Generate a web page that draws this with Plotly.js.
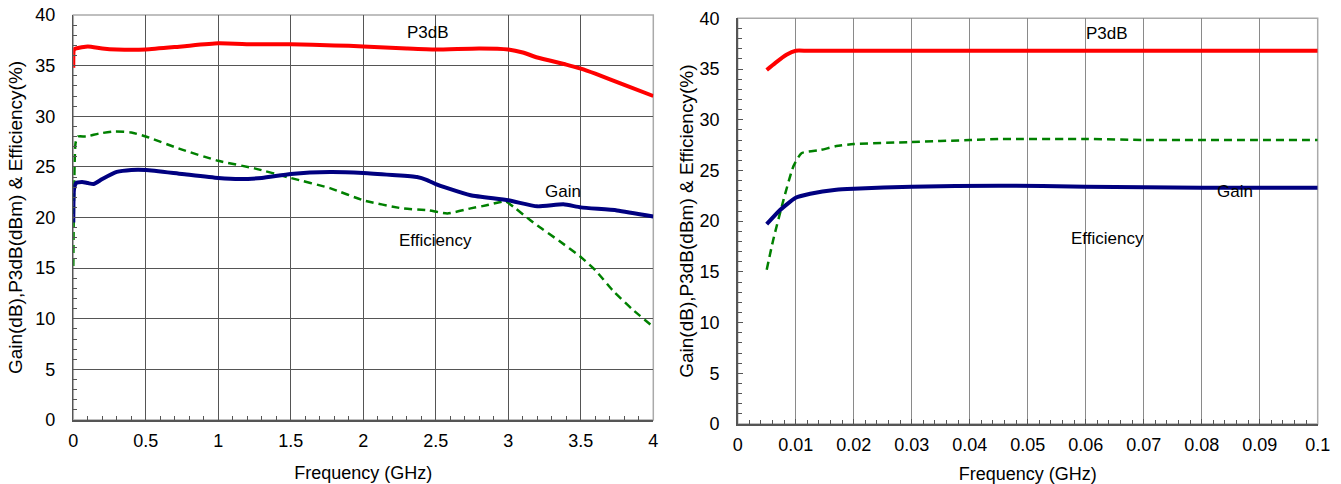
<!DOCTYPE html>
<html>
<head>
<meta charset="utf-8">
<script src="https://cdn.plot.ly/plotly-3.0.1.min.js"></script>
<style>html,body{margin:0;padding:0;background:#fff;}#chart{width:1341px;height:484px;}</style>
</head>
<body>
<div id="chart"></div>
<script>
// ---- Left chart (0 - 4 GHz) ----
const p3dbLeftFreq = [0, 0.005, 0.02, 0.1, 0.2, 0.3, 0.5, 0.75, 1.0, 1.25, 1.5, 1.8, 2.0, 2.3, 2.5, 2.8, 3.0, 3.1, 3.2, 3.4, 3.5, 3.6, 3.8, 4.0];
const p3dbLeft     = [34.8, 36.6, 36.7, 36.9, 36.7, 36.6, 36.6, 36.9, 37.2, 37.1, 37.1, 37.0, 36.9, 36.7, 36.6, 36.7, 36.6, 36.3, 35.8, 35.1, 34.7, 34.2, 33.1, 32.0];

const effLeftFreq = [0, 0.005, 0.015, 0.03, 0.09, 0.18, 0.29, 0.4, 0.5, 0.75, 1.0, 1.25, 1.5, 1.77, 2.0, 2.27, 2.45, 2.58, 2.74, 2.85, 2.98, 3.05, 3.15, 3.2, 3.35, 3.5, 3.6, 3.72, 3.85, 4.0];
const effLeft     = [15.2, 22.0, 27.3, 28.0, 28.0, 28.3, 28.5, 28.4, 28.0, 26.7, 25.6, 24.85, 23.9, 22.9, 21.7, 20.9, 20.7, 20.4, 20.9, 21.2, 21.6, 20.9, 19.75, 19.2, 17.7, 16.1, 14.8, 12.8, 11.0, 9.2];

const gainLeftFreq = [0, 0.005, 0.02, 0.06, 0.1, 0.14, 0.2, 0.3, 0.4, 0.5, 0.75, 1.0, 1.15, 1.3, 1.5, 1.77, 2.0, 2.2, 2.37, 2.44, 2.5, 2.58, 2.74, 3.0, 3.2, 3.38, 3.5, 3.75, 4.0];
const gainLeft     = [19.5, 22.8, 23.4, 23.5, 23.4, 23.3, 23.8, 24.5, 24.7, 24.7, 24.3, 23.9, 23.8, 23.9, 24.3, 24.5, 24.4, 24.2, 24.0, 23.7, 23.3, 22.9, 22.2, 21.7, 21.1, 21.3, 21.0, 20.7, 20.1];

// ---- Right chart (0 - 0.1 GHz) ----
const p3dbRightFreq = [0.005, 0.0065, 0.0084, 0.01, 0.012, 0.02, 0.04, 0.06, 0.08, 0.1];
const p3dbRight     = [34.9, 35.6, 36.4, 36.8, 36.8, 36.8, 36.8, 36.8, 36.8, 36.8];

const gainRightFreq = [0.005, 0.0073, 0.01, 0.0125, 0.017, 0.02, 0.03, 0.045, 0.06, 0.08, 0.1];
const gainRight     = [19.7, 21.1, 22.3, 22.7, 23.1, 23.2, 23.4, 23.5, 23.4, 23.3, 23.3];

const effRightFreq = [0.005, 0.0061, 0.0079, 0.0096, 0.011, 0.0142, 0.017, 0.02, 0.03, 0.04, 0.045, 0.06, 0.07, 0.1];
const effRight     = [15.2, 18.1, 22.1, 25.4, 26.7, 27.0, 27.4, 27.6, 27.8, 28.0, 28.1, 28.1, 28.0, 28.0];

const yTickVals = [0, 5, 10, 15, 20, 25, 30, 35, 40];
const rightGridVals = [10, 15, 20, 25];
const xTitle = 'Frequency (GHz)';
const yTitle = 'Gain(dB),P3dB(dBm) &amp; Efficiency(%)';

const FONT = 'Liberation Sans, Arial, sans-serif';
const RED = '#ff0000', NAVY = '#000080', GREEN = '#008000';

function line(x, y, color, width, dash, xa, ya) {
  return {type: 'scatter', mode: 'lines', x: x, y: y, xaxis: xa, yaxis: ya,
    line: {color: color, width: width, dash: dash || 'solid', shape: 'spline', smoothing: 0.5},
    showlegend: false, hoverinfo: 'skip'};
}

const traces = [
  line(effLeftFreq, effLeft, GREEN, 2.5, '8px,5px', 'x', 'y'),
  line(gainLeftFreq, gainLeft, NAVY, 4, null, 'x', 'y'),
  line(p3dbLeftFreq, p3dbLeft, RED, 4, null, 'x', 'y'),
  line(effRightFreq, effRight, GREEN, 2.5, '8px,5px', 'x2', 'y2'),
  line(gainRightFreq, gainRight, NAVY, 4, null, 'x2', 'y2'),
  line(p3dbRightFreq, p3dbRight, RED, 4, null, 'x2', 'y2')
];

const W = 1341, H = 484;
const tickFont = {family: FONT, size: 18, color: '#000'};
const xTitleFont = {family: FONT, size: 18, color: '#000'};
const yTitleFont = {family: FONT, size: 19, color: '#000'};

function xAxis(domain, range, dtick, minorD, gridColor, gridW, anchor) {
  return {domain: domain, range: range, dtick: dtick, tick0: 0,
    showgrid: true, gridcolor: gridColor, gridwidth: gridW, zeroline: false,
    showline: true, linecolor: '#555', linewidth: 1.5,
    ticks: 'inside', ticklen: 5, tickcolor: '#555', ticklabelstandoff: 4,
    minor: {ticks: 'inside', dtick: minorD, tick0: 0, ticklen: 4, tickcolor: '#555', showgrid: false},
    tickfont: tickFont, anchor: anchor, automargin: false, fixedrange: true,
    title: {text: xTitle, font: xTitleFont, standoff: 16}};
}
function yAxis(domain, showGrid, anchor, titleStandoff) {
  return {domain: domain, range: [0, 40], tickvals: yTickVals,
    showgrid: showGrid, gridcolor: '#555', gridwidth: 1, zeroline: false,
    showline: true, linecolor: '#555', linewidth: 1.5,
    ticks: 'inside', ticklen: 5, tickcolor: '#555', ticklabelstandoff: 13,
    minor: {ticks: 'inside', dtick: 1, tick0: 0, ticklen: 4, tickcolor: '#555', showgrid: false},
    tickfont: tickFont, anchor: anchor, automargin: false, fixedrange: true,
    title: {text: yTitle, font: yTitleFont, standoff: titleStandoff}};
}

function label(text, px, py) {
  return {text: text, xref: 'paper', yref: 'paper', x: px / W, y: 1 - py / H,
    xanchor: 'center', yanchor: 'middle', showarrow: false, font: {family: FONT, size: 17, color: '#000'}};
}

const layout = {
  width: W, height: H,
  margin: {l: 0, r: 0, t: 0, b: 0},
  paper_bgcolor: '#fff', plot_bgcolor: '#fff',
  showlegend: false,
  font: {family: FONT, color: '#000'},
  xaxis: xAxis([73.3 / W, 653.3 / W], [0, 4], 0.5, 0.1, '#555', 1, 'y'),
  yaxis: yAxis([1 - 420 / H, 1 - 15 / H], true, 'x', 7),
  xaxis2: xAxis([737.7 / W, 1317.7 / W], [0, 0.1], 0.01, 0.002, '#8a8a8a', 1.5, 'y2'),
  yaxis2: yAxis([1 - 424 / H, 1 - 18.3 / H], false, 'x2', 1),
  yaxis3: {overlaying: 'y2', anchor: 'x2', range: [0, 40], tickvals: rightGridVals,
    showgrid: true, gridcolor: '#000', gridwidth: 1, showticklabels: false, ticks: '',
    zeroline: false, showline: false, fixedrange: true},
  shapes: [
    {type: 'rect', xref: 'x domain', yref: 'y domain', x0: 0, x1: 1, y0: 0, y1: 1,
      line: {color: '#aaa', width: 1.5}, layer: 'below'},
    {type: 'rect', xref: 'x2 domain', yref: 'y2 domain', x0: 0, x1: 1, y0: 0, y1: 1,
      line: {color: '#aaa', width: 1.5}, layer: 'below'}
  ],
  annotations: [
    label('P3dB', 428, 33),
    label('Gain', 563, 191),
    label('Efficiency', 435, 240),
    label('P3dB', 1107, 34),
    label('Gain', 1235, 191),
    label('Efficiency', 1107, 238)
  ]
};

Plotly.newPlot('chart', traces, layout, {displayModeBar: false, staticPlot: true});
</script>
</body>
</html>
